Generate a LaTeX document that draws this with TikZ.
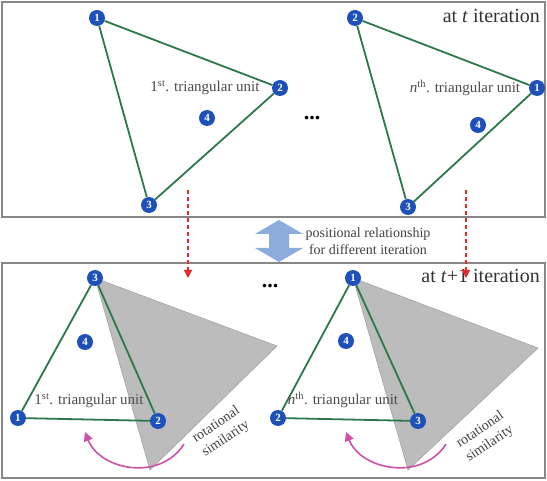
\documentclass[tikz,border=0pt]{standalone}
\usepackage{fontspec}
\setmainfont{Liberation Serif}
\usetikzlibrary{arrows.meta}
\definecolor{ptblue}{RGB}{30,80,185}
\definecolor{edgegreen}{RGB}{45,120,75}
\definecolor{framegray}{RGB}{135,135,135}
\definecolor{shadegray}{RGB}{188,188,188}
\definecolor{dashred}{RGB}{232,40,40}
\definecolor{relblue}{RGB}{140,172,222}
\definecolor{rotpink}{RGB}{205,80,165}
\tikzset{
    frame/.style={draw=framegray, line width=1.4pt},
    pt/.style={circle, fill=ptblue, text=white, inner sep=0pt,
               minimum size=16pt, font=\fontsize{11}{11}\selectfont\bfseries},
    edge/.style={draw=edgegreen, line width=1.8pt, line join=round},
    shade/.style={fill=shadegray, draw=gray!75, line width=0.5pt},
    unit/.style={text=black!70, font=\fontsize{15}{15}\selectfont, inner sep=0pt},
    iter/.style={text=black!80, font=\fontsize{20}{20}\selectfont, inner sep=0pt, anchor=east},
    dots/.style={font=\fontsize{22}{22}\selectfont\bfseries, inner sep=0pt},
    move/.style={dashred, dashed, line width=1.2pt, dash pattern=on 4pt off 3pt,
                 -{Triangle[length=8pt,width=8pt]}},
    relarrow/.style={fill=relblue},
    rot/.style={rotpink, line width=1.6pt, -{Triangle[length=9pt,width=9pt]}},
    note/.style={text=black!75, font=\fontsize{14}{17}\selectfont, align=center, inner sep=0pt},
}

\begin{document}
\begin{tikzpicture}[x=1pt,y=-1pt]
    \useasboundingbox (0,0) rectangle (547,481);

    % frames
    \draw[frame] (2,2) rectangle (545,217);
    \draw[frame] (2,263) rectangle (545,478);

    % at t
    \node[iter] (itt) at (540,16) {at \textit{t} iteration};
    \node[pt] (a1) at (97,18) {1};
    \node[pt] (a2) at (280,88) {2};
    \node[pt] (a3) at (149,205) {3};
    \draw[edge] (a1) -- (a2) -- (a3) -- (a1);
    \node[pt] (a4) at (207,118) {4};
    \node[unit] (ua) at (205,88) {1\textsuperscript{st}. triangular unit};
    \node[dots] (dt) at (312,118) {...};

    \node[pt] (b2) at (355,18) {2};
    \node[pt] (b1) at (537,88) {1};
    \node[pt] (b3) at (408,207) {3};
    \draw[edge] (b2) -- (b1) -- (b3) -- (b2);
    \node[pt] (b4) at (478,125) {4};
    \node[unit] (ub) at (465,88) {\textit{n}\textsuperscript{th}. triangular unit};

    % between the iterations
    \coordinate (ms) at (188,190);
    \coordinate (me) at (188,278);
    \coordinate (ns) at (466,190);
    \coordinate (ne) at (466,278);
    \fill[relarrow] (279,220) -- (303,234) -- (289,234) -- (289,248) -- (303,248)
        -- (279,262) -- (255,248) -- (269,248) -- (269,234) -- (255,234) -- cycle;
    \node[note] (reltext) at (368,241) {positional relationship\\for different iteration};

    % at t+1
    \node[iter] (itu) at (540,276) {at \textit{t}+1 iteration};
    \filldraw[shade] (95,278) -- (277,346) -- (150,470) -- cycle;
    \filldraw[shade] (353,278) -- (538,348) -- (408,470) -- cycle;
    \draw[move] (ms) -- (me);
    \draw[move] (ns) -- (ne);

    \node[pt] (c3) at (95,278) {3};
    \node[pt] (c1) at (18,418) {1};
    \node[pt] (c2) at (158,421) {2};
    \draw[edge] (c3) -- (c1) -- (c2) -- (c3);
    \node[pt] (c4) at (85,342) {4};
    \node[unit] (uc) at (89,401) {1\textsuperscript{st}. triangular unit};
    \node[dots] (du) at (270,286) {...};

    \node[pt] (d1) at (353,278) {1};
    \node[pt] (d2) at (278,418) {2};
    \node[pt] (d3) at (418,421) {3};
    \draw[edge] (d1) -- (d2) -- (d3) -- (d1);
    \node[pt] (d4) at (346,341) {4};
    \node[unit] (ud) at (343,400) {\textit{n}\textsuperscript{th}. triangular unit};

    % rotational similarity
    \coordinate (rs) at (184,444);
    \coordinate (re) at (85,432);
    \coordinate (ss) at (446,444);
    \coordinate (se) at (346,432);
    \draw[rot] (rs) .. controls (160,482) and (100,470) .. (re);
    \draw[rot] (ss) .. controls (422,482) and (361,470) .. (se);
    \node[note, rotate=34] (rtc) at (221,432) {rotational\\similarity};
    \node[note, rotate=34] (rtd) at (485,437) {rotational\\similarity};

\end{tikzpicture}
\end{document}
